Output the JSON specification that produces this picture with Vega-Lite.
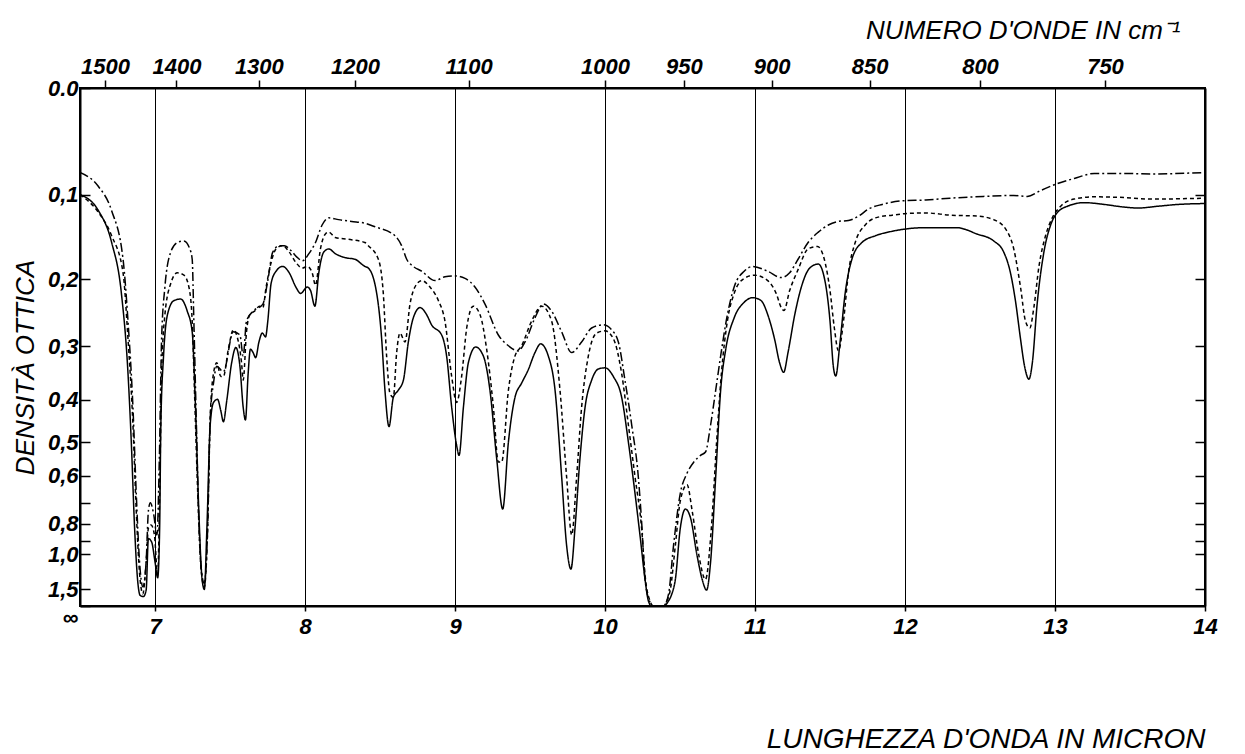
{
  "$schema": "https://vega.github.io/schema/vega-lite/v6.json",
  "width": 1125,
  "height": 518,
  "autosize": {"type": "none"},
  "padding": {"left": 80, "top": 88, "right": 40, "bottom": 148},
  "background": "white",
  "config": {
    "font": "Liberation Sans",
    "view": {"stroke": "black", "strokeWidth": 2},
    "axis": {
      "domainColor": "black", "domainWidth": 2,
      "tickColor": "black", "tickWidth": 1.5,
      "labelColor": "black", "labelFont": "Liberation Sans", "labelFontStyle": "italic", "labelFontWeight": "bold", "labelFontSize": 22,
      "labelOverlap": false, "labelFlush": false,
      "titleColor": "black", "titleFont": "Liberation Sans", "titleFontStyle": "italic", "titleFontWeight": "normal", "titleFontSize": 26
    }
  },
  "data": {"values": [
    {"c":"S","x":6.5,"y":0.100},{"c":"S","x":6.623,"y":0.118},{"c":"S","x":6.711,"y":0.154},{"c":"S","x":6.776,"y":0.220},{"c":"S","x":6.820,"y":0.348},{"c":"S","x":6.842,"y":0.500},{"c":"S","x":6.864,"y":0.825},{"c":"S","x":6.886,"y":1.364},{"c":"S","x":6.901,"y":1.70},{"c":"S","x":6.923,"y":1.746},{"c":"S","x":6.941,"y":1.524},{"c":"S","x":6.956,"y":0.887},{"c":"S","x":6.978,"y":0.910},{"c":"S","x":7.0,"y":1.080},{"c":"S","x":7.018,"y":1.274},{"c":"S","x":7.031,"y":0.825},{"c":"S","x":7.039,"y":0.457},{"c":"S","x":7.057,"y":0.317},{"c":"S","x":7.083,"y":0.250},{"c":"S","x":7.127,"y":0.230},{"c":"S","x":7.171,"y":0.228},{"c":"S","x":7.215,"y":0.245},{"c":"S","x":7.248,"y":0.277},{"c":"S","x":7.270,"y":0.417},{"c":"S","x":7.292,"y":0.738},{"c":"S","x":7.314,"y":1.302},{"c":"S","x":7.329,"y":1.505},{"c":"S","x":7.346,"y":0.825},{"c":"S","x":7.368,"y":0.457},{"c":"S","x":7.390,"y":0.406},{"c":"S","x":7.417,"y":0.399},{"c":"S","x":7.439,"y":0.425},{"c":"S","x":7.456,"y":0.449},{"c":"S","x":7.478,"y":0.403},{"c":"S","x":7.511,"y":0.329},{"c":"S","x":7.539,"y":0.302},{"c":"S","x":7.566,"y":0.335},{"c":"S","x":7.588,"y":0.417},{"c":"S","x":7.603,"y":0.445},{"c":"S","x":7.621,"y":0.348},{"c":"S","x":7.636,"y":0.305},{"c":"S","x":7.654,"y":0.311},{"c":"S","x":7.671,"y":0.320},{"c":"S","x":7.693,"y":0.293},{"c":"S","x":7.715,"y":0.279},{"c":"S","x":7.737,"y":0.285},{"c":"S","x":7.752,"y":0.260},{"c":"S","x":7.774,"y":0.206},{"c":"S","x":7.807,"y":0.190},{"c":"S","x":7.851,"y":0.184},{"c":"S","x":7.895,"y":0.192},{"c":"S","x":7.939,"y":0.211},{"c":"S","x":7.971,"y":0.220},{"c":"S","x":8.015,"y":0.211},{"c":"S","x":8.037,"y":0.216},{"c":"S","x":8.066,"y":0.238},{"c":"S","x":8.092,"y":0.192},{"c":"S","x":8.125,"y":0.166},{"c":"S","x":8.158,"y":0.162},{"c":"S","x":8.202,"y":0.168},{"c":"S","x":8.268,"y":0.173},{"c":"S","x":8.333,"y":0.175},{"c":"S","x":8.399,"y":0.184},{"c":"S","x":8.422,"y":0.186},{"c":"S","x":8.478,"y":0.220},{"c":"S","x":8.511,"y":0.288},{"c":"S","x":8.533,"y":0.381},{"c":"S","x":8.560,"y":0.461},{"c":"S","x":8.589,"y":0.395},{"c":"S","x":8.622,"y":0.381},{"c":"S","x":8.656,"y":0.361},{"c":"S","x":8.689,"y":0.293},{"c":"S","x":8.722,"y":0.255},{"c":"S","x":8.767,"y":0.240},{"c":"S","x":8.811,"y":0.250},{"c":"S","x":8.844,"y":0.266},{"c":"S","x":8.911,"y":0.282},{"c":"S","x":8.944,"y":0.317},{"c":"S","x":8.978,"y":0.417},{"c":"S","x":9.011,"y":0.510},{"c":"S","x":9.027,"y":0.539},{"c":"S","x":9.056,"y":0.417},{"c":"S","x":9.089,"y":0.329},{"c":"S","x":9.138,"y":0.301},{"c":"S","x":9.189,"y":0.317},{"c":"S","x":9.233,"y":0.381},{"c":"S","x":9.278,"y":0.549},{"c":"S","x":9.318,"y":0.730},{"c":"S","x":9.356,"y":0.500},{"c":"S","x":9.400,"y":0.395},{"c":"S","x":9.444,"y":0.367},{"c":"S","x":9.489,"y":0.341},{"c":"S","x":9.533,"y":0.311},{"c":"S","x":9.571,"y":0.296},{"c":"S","x":9.622,"y":0.317},{"c":"S","x":9.667,"y":0.381},{"c":"S","x":9.711,"y":0.603},{"c":"S","x":9.744,"y":0.934},{"c":"S","x":9.773,"y":1.156},{"c":"S","x":9.800,"y":0.825},{"c":"S","x":9.833,"y":0.549},{"c":"S","x":9.867,"y":0.417},{"c":"S","x":9.911,"y":0.361},{"c":"S","x":9.956,"y":0.340},{"c":"S","x":10.0,"y":0.338},{"c":"S","x":10.056,"y":0.354},{"c":"S","x":10.111,"y":0.395},{"c":"S","x":10.156,"y":0.500},{"c":"S","x":10.2,"y":0.665},{"c":"S","x":10.233,"y":0.865},{"c":"S","x":10.267,"y":1.302},{"c":"S","x":10.289,"y":2.0},{"c":"S","x":10.31,"y":3},{"c":"S","x":10.39,"y":3},{"c":"S","x":10.424,"y":2.0},{"c":"S","x":10.446,"y":1.633},{"c":"S","x":10.469,"y":1.302},{"c":"S","x":10.502,"y":0.825},{"c":"S","x":10.536,"y":0.730},{"c":"S","x":10.570,"y":0.771},{"c":"S","x":10.614,"y":1.016},{"c":"S","x":10.648,"y":1.302},{"c":"S","x":10.677,"y":1.524},{"c":"S","x":10.704,"y":1.080},{"c":"S","x":10.738,"y":0.603},{"c":"S","x":10.771,"y":0.381},{"c":"S","x":10.805,"y":0.305},{"c":"S","x":10.861,"y":0.255},{"c":"S","x":10.928,"y":0.2325},{"c":"S","x":10.984,"y":0.226},{"c":"S","x":11.040,"y":0.230},{"c":"S","x":11.085,"y":0.250},{"c":"S","x":11.130,"y":0.288},{"c":"S","x":11.164,"y":0.329},{"c":"S","x":11.191,"y":0.346},{"c":"S","x":11.220,"y":0.311},{"c":"S","x":11.265,"y":0.250},{"c":"S","x":11.309,"y":0.211},{"c":"S","x":11.365,"y":0.186},{"c":"S","x":11.422,"y":0.181},{"c":"S","x":11.466,"y":0.202},{"c":"S","x":11.500,"y":0.260},{"c":"S","x":11.522,"y":0.335},{"c":"S","x":11.538,"y":0.353},{"c":"S","x":11.567,"y":0.293},{"c":"S","x":11.601,"y":0.220},{"c":"S","x":11.646,"y":0.175},{"c":"S","x":11.713,"y":0.154},{"c":"S","x":11.803,"y":0.146},{"c":"S","x":11.915,"y":0.141},{"c":"S","x":12.027,"y":0.138},{"c":"S","x":12.139,"y":0.137},{"c":"S","x":12.345,"y":0.137},{"c":"S","x":12.479,"y":0.144},{"c":"S","x":12.591,"y":0.152},{"c":"S","x":12.658,"y":0.166},{"c":"S","x":12.703,"y":0.192},{"c":"S","x":12.736,"y":0.230},{"c":"S","x":12.770,"y":0.288},{"c":"S","x":12.797,"y":0.335},{"c":"S","x":12.826,"y":0.359},{"c":"S","x":12.849,"y":0.329},{"c":"S","x":12.881,"y":0.235},{"c":"S","x":12.926,"y":0.166},{"c":"S","x":12.971,"y":0.134},{"c":"S","x":13.016,"y":0.120},{"c":"S","x":13.083,"y":0.113},{"c":"S","x":13.195,"y":0.109},{"c":"S","x":13.329,"y":0.111},{"c":"S","x":13.463,"y":0.114},{"c":"S","x":13.553,"y":0.115},{"c":"S","x":13.687,"y":0.113},{"c":"S","x":13.821,"y":0.111},{"c":"S","x":14.0,"y":0.110},
    {"c":"D","x":6.5,"y":0.100},{"c":"D","x":6.623,"y":0.120},{"c":"D","x":6.711,"y":0.146},{"c":"D","x":6.787,"y":0.192},{"c":"D","x":6.820,"y":0.288},{"c":"D","x":6.853,"y":0.457},{"c":"D","x":6.875,"y":0.738},{"c":"D","x":6.897,"y":1.199},{"c":"D","x":6.919,"y":1.633},{"c":"D","x":6.941,"y":1.080},{"c":"D","x":6.956,"y":0.825},{"c":"D","x":6.974,"y":0.806},{"c":"D","x":6.996,"y":0.865},{"c":"D","x":7.018,"y":1.248},{"c":"D","x":7.031,"y":0.665},{"c":"D","x":7.044,"y":0.348},{"c":"D","x":7.066,"y":0.250},{"c":"D","x":7.105,"y":0.206},{"c":"D","x":7.149,"y":0.192},{"c":"D","x":7.193,"y":0.195},{"c":"D","x":7.226,"y":0.211},{"c":"D","x":7.248,"y":0.260},{"c":"D","x":7.263,"y":0.381},{"c":"D","x":7.285,"y":0.665},{"c":"D","x":7.307,"y":1.156},{"c":"D","x":7.329,"y":1.437},{"c":"D","x":7.351,"y":0.825},{"c":"D","x":7.368,"y":0.441},{"c":"D","x":7.390,"y":0.348},{"c":"D","x":7.412,"y":0.329},{"c":"D","x":7.439,"y":0.354},{"c":"D","x":7.456,"y":0.354},{"c":"D","x":7.489,"y":0.305},{"c":"D","x":7.522,"y":0.274},{"c":"D","x":7.548,"y":0.285},{"c":"D","x":7.577,"y":0.329},{"c":"D","x":7.588,"y":0.361},{"c":"D","x":7.610,"y":0.277},{"c":"D","x":7.632,"y":0.250},{"c":"D","x":7.664,"y":0.245},{"c":"D","x":7.697,"y":0.238},{"c":"D","x":7.719,"y":0.240},{"c":"D","x":7.741,"y":0.211},{"c":"D","x":7.774,"y":0.179},{"c":"D","x":7.807,"y":0.162},{"c":"D","x":7.851,"y":0.158},{"c":"D","x":7.895,"y":0.166},{"c":"D","x":7.939,"y":0.179},{"c":"D","x":7.982,"y":0.186},{"c":"D","x":8.015,"y":0.184},{"c":"D","x":8.048,"y":0.192},{"c":"D","x":8.070,"y":0.2085},{"c":"D","x":8.103,"y":0.162},{"c":"D","x":8.136,"y":0.144},{"c":"D","x":8.158,"y":0.142},{"c":"D","x":8.202,"y":0.148},{"c":"D","x":8.289,"y":0.150},{"c":"D","x":8.399,"y":0.154},{"c":"D","x":8.422,"y":0.158},{"c":"D","x":8.489,"y":0.175},{"c":"D","x":8.522,"y":0.220},{"c":"D","x":8.544,"y":0.317},{"c":"D","x":8.567,"y":0.388},{"c":"D","x":8.589,"y":0.395},{"c":"D","x":8.611,"y":0.311},{"c":"D","x":8.633,"y":0.279},{"c":"D","x":8.667,"y":0.293},{"c":"D","x":8.700,"y":0.235},{"c":"D","x":8.733,"y":0.211},{"c":"D","x":8.778,"y":0.202},{"c":"D","x":8.833,"y":0.211},{"c":"D","x":8.889,"y":0.230},{"c":"D","x":8.933,"y":0.260},{"c":"D","x":8.978,"y":0.354},{"c":"D","x":9.011,"y":0.406},{"c":"D","x":9.044,"y":0.354},{"c":"D","x":9.078,"y":0.271},{"c":"D","x":9.122,"y":0.238},{"c":"D","x":9.167,"y":0.250},{"c":"D","x":9.211,"y":0.305},{"c":"D","x":9.256,"y":0.417},{"c":"D","x":9.289,"y":0.559},{"c":"D","x":9.311,"y":0.559},{"c":"D","x":9.356,"y":0.381},{"c":"D","x":9.400,"y":0.317},{"c":"D","x":9.444,"y":0.299},{"c":"D","x":9.511,"y":0.260},{"c":"D","x":9.578,"y":0.238},{"c":"D","x":9.644,"y":0.260},{"c":"D","x":9.700,"y":0.381},{"c":"D","x":9.744,"y":0.603},{"c":"D","x":9.778,"y":0.865},{"c":"D","x":9.811,"y":0.603},{"c":"D","x":9.844,"y":0.417},{"c":"D","x":9.889,"y":0.317},{"c":"D","x":9.944,"y":0.279},{"c":"D","x":10.0,"y":0.2755},{"c":"D","x":10.056,"y":0.288},{"c":"D","x":10.111,"y":0.348},{"c":"D","x":10.156,"y":0.457},{"c":"D","x":10.2,"y":0.603},{"c":"D","x":10.244,"y":0.825},{"c":"D","x":10.27,"y":1.30},{"c":"D","x":10.30,"y":2.0},{"c":"D","x":10.32,"y":3},{"c":"D","x":10.39,"y":3},{"c":"D","x":10.413,"y":2.0},{"c":"D","x":10.435,"y":1.524},{"c":"D","x":10.469,"y":0.934},{"c":"D","x":10.502,"y":0.693},{"c":"D","x":10.547,"y":0.633},{"c":"D","x":10.581,"y":0.738},{"c":"D","x":10.626,"y":1.016},{"c":"D","x":10.670,"y":1.302},{"c":"D","x":10.709,"y":0.825},{"c":"D","x":10.744,"y":0.500},{"c":"D","x":10.776,"y":0.348},{"c":"D","x":10.816,"y":0.260},{"c":"D","x":10.861,"y":0.220},{"c":"D","x":10.928,"y":0.199},{"c":"D","x":10.996,"y":0.195},{"c":"D","x":11.085,"y":0.202},{"c":"D","x":11.141,"y":0.220},{"c":"D","x":11.175,"y":0.240},{"c":"D","x":11.193,"y":0.244},{"c":"D","x":11.231,"y":0.216},{"c":"D","x":11.287,"y":0.188},{"c":"D","x":11.354,"y":0.162},{"c":"D","x":11.417,"y":0.159},{"c":"D","x":11.462,"y":0.175},{"c":"D","x":11.500,"y":0.216},{"c":"D","x":11.529,"y":0.271},{"c":"D","x":11.556,"y":0.308},{"c":"D","x":11.590,"y":0.260},{"c":"D","x":11.623,"y":0.192},{"c":"D","x":11.668,"y":0.154},{"c":"D","x":11.735,"y":0.134},{"c":"D","x":11.803,"y":0.126},{"c":"D","x":11.915,"y":0.123},{"c":"D","x":12.027,"y":0.121},{"c":"D","x":12.139,"y":0.1205},{"c":"D","x":12.300,"y":0.123},{"c":"D","x":12.479,"y":0.124},{"c":"D","x":12.591,"y":0.128},{"c":"D","x":12.669,"y":0.138},{"c":"D","x":12.725,"y":0.162},{"c":"D","x":12.770,"y":0.211},{"c":"D","x":12.803,"y":0.260},{"c":"D","x":12.832,"y":0.271},{"c":"D","x":12.859,"y":0.240},{"c":"D","x":12.893,"y":0.184},{"c":"D","x":12.937,"y":0.146},{"c":"D","x":12.982,"y":0.126},{"c":"D","x":13.038,"y":0.113},{"c":"D","x":13.128,"y":0.105},{"c":"D","x":13.262,"y":0.1025},{"c":"D","x":13.418,"y":0.103},{"c":"D","x":13.642,"y":0.105},{"c":"D","x":14.0,"y":0.104},
    {"c":"P","x":6.5,"y":0.078},{"c":"P","x":6.623,"y":0.092},{"c":"P","x":6.711,"y":0.118},{"c":"P","x":6.787,"y":0.175},{"c":"P","x":6.820,"y":0.260},{"c":"P","x":6.853,"y":0.417},{"c":"P","x":6.875,"y":0.665},{"c":"P","x":6.897,"y":1.080},{"c":"P","x":6.919,"y":1.437},{"c":"P","x":6.941,"y":1.080},{"c":"P","x":6.956,"y":0.738},{"c":"P","x":6.969,"y":0.700},{"c":"P","x":6.991,"y":0.754},{"c":"P","x":7.013,"y":0.865},{"c":"P","x":7.029,"y":0.549},{"c":"P","x":7.044,"y":0.288},{"c":"P","x":7.066,"y":0.211},{"c":"P","x":7.105,"y":0.166},{"c":"P","x":7.149,"y":0.154},{"c":"P","x":7.193,"y":0.152},{"c":"P","x":7.232,"y":0.162},{"c":"P","x":7.248,"y":0.175},{"c":"P","x":7.259,"y":0.260},{"c":"P","x":7.276,"y":0.457},{"c":"P","x":7.294,"y":0.825},{"c":"P","x":7.314,"y":1.248},{"c":"P","x":7.329,"y":1.364},{"c":"P","x":7.351,"y":0.825},{"c":"P","x":7.368,"y":0.441},{"c":"P","x":7.390,"y":0.367},{"c":"P","x":7.412,"y":0.335},{"c":"P","x":7.456,"y":0.345},{"c":"P","x":7.522,"y":0.277},{"c":"P","x":7.566,"y":0.282},{"c":"P","x":7.588,"y":0.317},{"c":"P","x":7.610,"y":0.260},{"c":"P","x":7.654,"y":0.245},{"c":"P","x":7.719,"y":0.235},{"c":"P","x":7.752,"y":0.202},{"c":"P","x":7.785,"y":0.166},{"c":"P","x":7.829,"y":0.158},{"c":"P","x":7.862,"y":0.158},{"c":"P","x":7.906,"y":0.164},{"c":"P","x":7.950,"y":0.173},{"c":"P","x":7.982,"y":0.177},{"c":"P","x":8.026,"y":0.168},{"c":"P","x":8.070,"y":0.154},{"c":"P","x":8.114,"y":0.134},{"c":"P","x":8.158,"y":0.126},{"c":"P","x":8.224,"y":0.128},{"c":"P","x":8.311,"y":0.130},{"c":"P","x":8.399,"y":0.132},{"c":"P","x":8.467,"y":0.136},{"c":"P","x":8.6,"y":0.146},{"c":"P","x":8.644,"y":0.158},{"c":"P","x":8.678,"y":0.175},{"c":"P","x":8.722,"y":0.184},{"c":"P","x":8.778,"y":0.190},{"c":"P","x":8.867,"y":0.202},{"c":"P","x":8.933,"y":0.197},{"c":"P","x":9.0,"y":0.196},{"c":"P","x":9.067,"y":0.199},{"c":"P","x":9.133,"y":0.211},{"c":"P","x":9.2,"y":0.235},{"c":"P","x":9.289,"y":0.282},{"c":"P","x":9.356,"y":0.299},{"c":"P","x":9.422,"y":0.308},{"c":"P","x":9.467,"y":0.293},{"c":"P","x":9.533,"y":0.255},{"c":"P","x":9.589,"y":0.235},{"c":"P","x":9.644,"y":0.245},{"c":"P","x":9.711,"y":0.277},{"c":"P","x":9.778,"y":0.311},{"c":"P","x":9.844,"y":0.293},{"c":"P","x":9.911,"y":0.271},{"c":"P","x":9.989,"y":0.266},{"c":"P","x":10.044,"y":0.274},{"c":"P","x":10.089,"y":0.293},{"c":"P","x":10.133,"y":0.361},{"c":"P","x":10.178,"y":0.457},{"c":"P","x":10.222,"y":0.603},{"c":"P","x":10.245,"y":0.80},{"c":"P","x":10.267,"y":1.302},{"c":"P","x":10.300,"y":2.18},{"c":"P","x":10.323,"y":3},{"c":"P","x":10.39,"y":3},{"c":"P","x":10.424,"y":1.633},{"c":"P","x":10.457,"y":0.934},{"c":"P","x":10.502,"y":0.665},{"c":"P","x":10.547,"y":0.592},{"c":"P","x":10.592,"y":0.559},{"c":"P","x":10.637,"y":0.539},{"c":"P","x":10.670,"y":0.529},{"c":"P","x":10.704,"y":0.457},{"c":"P","x":10.738,"y":0.381},{"c":"P","x":10.771,"y":0.317},{"c":"P","x":10.816,"y":0.250},{"c":"P","x":10.861,"y":0.211},{"c":"P","x":10.928,"y":0.190},{"c":"P","x":10.984,"y":0.184},{"c":"P","x":11.085,"y":0.190},{"c":"P","x":11.175,"y":0.198},{"c":"P","x":11.231,"y":0.192},{"c":"P","x":11.287,"y":0.175},{"c":"P","x":11.354,"y":0.154},{"c":"P","x":11.422,"y":0.142},{"c":"P","x":11.489,"y":0.134},{"c":"P","x":11.556,"y":0.130},{"c":"P","x":11.623,"y":0.129},{"c":"P","x":11.691,"y":0.124},{"c":"P","x":11.758,"y":0.116},{"c":"P","x":11.848,"y":0.111},{"c":"P","x":11.982,"y":0.107},{"c":"P","x":12.139,"y":0.106},{"c":"P","x":12.300,"y":0.104},{"c":"P","x":12.523,"y":0.102},{"c":"P","x":12.725,"y":0.101},{"c":"P","x":12.814,"y":0.102},{"c":"P","x":12.904,"y":0.096},{"c":"P","x":13.016,"y":0.089},{"c":"P","x":13.128,"y":0.084},{"c":"P","x":13.262,"y":0.079},{"c":"P","x":13.463,"y":0.079},{"c":"P","x":13.642,"y":0.0795},{"c":"P","x":14.0,"y":0.078}
  ]},
  "layer": [
    {
      "mark": {"type": "line", "color": "black", "strokeWidth": 1.5, "interpolate": "monotone", "clip": true},
      "encoding": {
        "x": {
          "field": "x", "type": "quantitative",
          "scale": {"domain": [6.5, 14], "nice": false, "zero": false},
          "axis": {
            "orient": "bottom",
            "values": [7, 8, 9, 10, 11, 12, 13, 14],
            "format": "d",
            "grid": true, "gridColor": "black", "gridWidth": 1, "gridOpacity": 1,
            "tickSize": 5, "labelPadding": 5,
            "title": "LUNGHEZZA D'ONDA IN MICRON",
            "titleFontSize": 28,
            "titleAnchor": "end", "titleAlign": "right", "titleBaseline": "alphabetic", "titleY": 141
          }
        },
        "y": {
          "field": "y", "type": "quantitative",
          "scale": {
            "domain": [0, 0.05, 0.1, 0.15, 0.2, 0.25, 0.3, 0.35, 0.4, 0.45, 0.5, 0.6, 0.7, 0.8, 0.9, 1.0, 1.2, 1.4, 1.6, 1.8, 2.0, 2.5, 3.0],
            "range": [0, 56.3, 106.6, 151.3, 191.2, 226.7, 258.4, 286.6, 311.8, 334.2, 354.2, 387.9, 414.7, 435.9, 452.8, 466.2, 485.3, 497.4, 505.0, 509.8, 512.8, 516.4, 518],
            "nice": false, "zero": false, "clamp": true
          },
          "axis": {
            "orient": "left",
            "values": [0, 0.1, 0.2, 0.3, 0.4, 0.5, 0.6, 0.7, 0.8, 0.9, 1.0, 1.5, 3],
            "labelExpr": "datum.value == 0 ? '0.0' : (datum.value == 3 ? '∞' : ((datum.value == 0.7 || datum.value == 0.9) ? '' : replace(format(datum.value, '.1f'), '.', ',')))",
            "labelBaseline": {"condition": {"test": "datum.value == 3", "value": "top"}, "value": "middle"},
            "labelOffset": {"condition": {"test": "datum.value == 3", "value": 1}, "value": 0},
            "grid": false,
            "tickSize": -10, "labelPadding": 12,
            "title": "DENSITÀ OTTICA",
            "titleAnchor": "middle", "titleX": -55, "titleY": 279, "titleAlign": "center", "titleBaseline": "middle"
          }
        },
        "strokeDash": {
          "field": "c", "type": "nominal",
          "scale": {"domain": ["S", "D", "P"], "range": [[1, 0], [4, 3], [9, 3, 2, 3]]},
          "legend": null
        }
      }
    },
    {
      "mark": {"type": "line", "strokeOpacity": 0, "opacity": 0},
      "encoding": {
        "x": {
          "field": "x", "type": "quantitative",
          "axis": {
            "orient": "top",
            "values": [6.66667, 7.14286, 7.69231, 8.33333, 9.09091, 10, 10.52632, 11.11111, 11.76471, 12.5, 13.33333],
            "labelExpr": "'' + round(10000 / datum.value)",
            "grid": false,
            "tickSize": 8, "labelPadding": 2,
            "title": "NUMERO D'ONDE IN cm⁻¹",
            "titleX": 1100, "titleY": -50, "titleAlign": "right", "titleBaseline": "alphabetic"
          }
        },
        "y": {
          "field": "y", "type": "quantitative",
          "axis": {
            "orient": "right",
            "values": [0.1, 0.2, 0.3, 0.4, 0.5, 0.6, 0.7, 0.8, 0.9, 1.0, 1.5],
            "labels": false, "grid": false, "title": null,
            "tickSize": -10
          }
        },
        "detail": {"field": "c", "type": "nominal"}
      }
    }
  ],
  "resolve": {"axis": {"x": "independent", "y": "independent"}}
}
